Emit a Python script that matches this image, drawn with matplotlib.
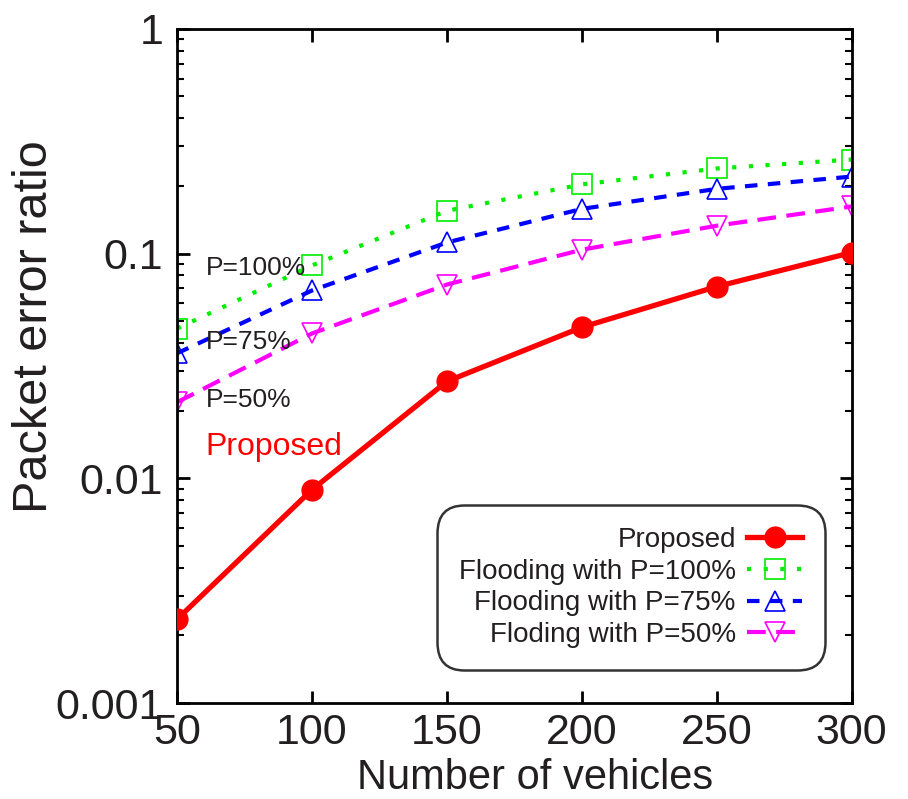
import matplotlib
matplotlib.use("Agg")
import matplotlib.pyplot as plt
from matplotlib.ticker import LogLocator, NullFormatter, FixedLocator

plt.rcParams['font.family'] = ['Liberation Sans', 'DejaVu Sans']
TXT = '#231f20'

vehicles = [50, 100, 150, 200, 250, 300]
proposed = [0.00236, 0.0089, 0.027, 0.047, 0.0713, 0.101]
flood100 = [0.0464, 0.0885, 0.155, 0.203, 0.239, 0.262]
flood75 = [0.036, 0.0685, 0.112, 0.158, 0.194, 0.22]
flood50 = [0.0218, 0.0441, 0.0728, 0.104, 0.133, 0.162]
labels = ["Proposed", "Flooding with P=100%", "Flooding with P=75%", "Floding with P=50%"]
ytick_labels = ["0.001", "0.01", "0.1", "1"]
inline_labels = ["P=100%", "P=75%", "P=50%", "Proposed"]

fig = plt.figure(figsize=(9.08, 7.99), dpi=100)
ax = fig.add_axes([0.195, 0.120, 0.743, 0.844])

ax.plot(vehicles, proposed, color='#ff0000', lw=3.8, marker='o', ms=15,
        mfc='#ff0000', mec='#ff0000', label=labels[0], zorder=5)
ax.plot(vehicles, flood100, color='#00ee00', lw=3, ls=(0, (1, 3)), marker='s', ms=14,
        mfc='none', mec='#00ee00', mew=1.2, label=labels[1])
ax.plot(vehicles, flood75, color='#0000ff', lw=3, ls=(0, (3, 2.5)), marker='^', ms=14,
        mfc='none', mec='#0000ff', mew=1.2, label=labels[2])
ax.plot(vehicles, flood50, color='#ff00ff', lw=3, ls=(0, (4.5, 2.5)), marker='v', ms=14,
        mfc='none', mec='#ff00ff', mew=1.2, label=labels[3])

ax.set_yscale('log')
ax.set_xlim(50, 300)
ax.set_ylim(0.001, 1)
ax.xaxis.set_major_locator(FixedLocator(vehicles))
ax.set_yticks([0.001, 0.01, 0.1, 1])
ax.set_yticklabels(ytick_labels)
ax.yaxis.set_minor_locator(LogLocator(base=10, subs=range(2, 10)))
ax.yaxis.set_minor_formatter(NullFormatter())

ax.tick_params(which='both', direction='in', top=True, right=True, labelsize=31,
               labelcolor=TXT)
ax.tick_params(axis='x', pad=7)
ax.tick_params(axis='y', pad=10)
ax.tick_params(which='major', length=9, width=2)
ax.tick_params(which='minor', length=5, width=1.5)
for s in ax.spines.values():
    s.set_linewidth(2)

ax.set_xlabel("Number of vehicles", fontsize=30, color=TXT, va='center')
ax.set_ylabel("Packet error ratio", fontsize=35, color=TXT, va='center')
ax.xaxis.set_label_coords(0.53, -0.111)
ax.yaxis.set_label_coords(-0.212, 0.558)

ax.text(60.5, 0.0865, inline_labels[0], fontsize=19, color=TXT, va='center')
ax.text(60.5, 0.0405, inline_labels[1], fontsize=19, color=TXT, va='center')
ax.text(60.5, 0.0222, inline_labels[2], fontsize=19, color=TXT, va='center')
ax.text(60.5, 0.0138, inline_labels[3], fontsize=23, color='#ff0000', va='center')

leg = ax.legend(loc='lower right', bbox_to_anchor=(0.96, 0.049), markerfirst=False,
                fontsize=20, frameon=True, fancybox=True, handlelength=2.0,
                borderpad=0.8, labelspacing=0.2, handletextpad=0.4, borderaxespad=0)
leg.get_frame().set_edgecolor('black')
leg.get_frame().set_linewidth(1.8)
leg.get_frame().set_boxstyle('round', pad=0.0, rounding_size=1.0)
for t in leg.get_texts():
    t.set_ha('right')
    t.set_color(TXT)
leg._legend_box.align = "right"

fig.savefig("out.png", dpi=100)
